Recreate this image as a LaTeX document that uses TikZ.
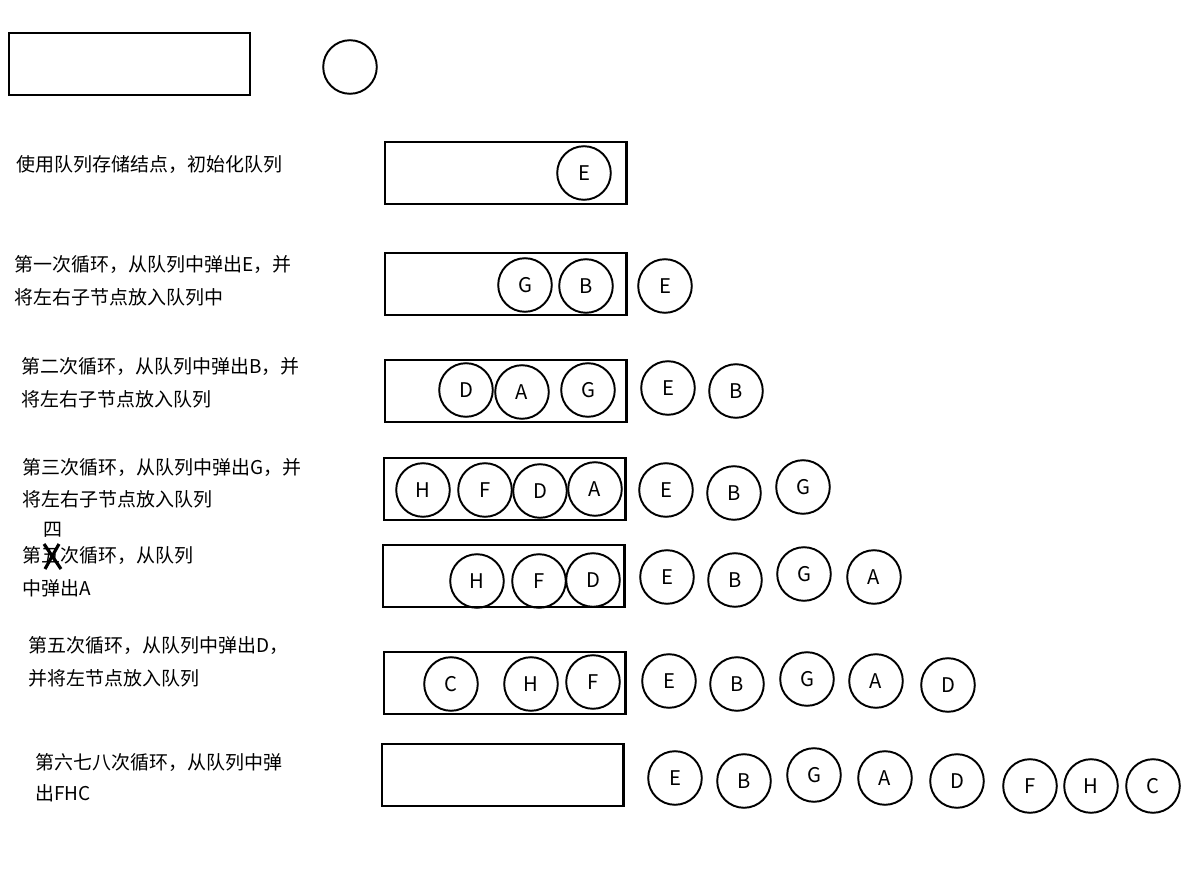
\documentclass[tikz,border=0pt]{standalone}
\usepackage{fontspec}
\setmainfont{Noto Sans CJK SC}
\tikzset{
  qnode/.style={circle,draw,line width=1.1pt,minimum size=30.5pt,inner sep=0pt,font=\fontsize{11.5}{13}\selectfont},
  qbox/.style={line width=1.7pt},
  note/.style={anchor=west,inner sep=0pt,font=\fontsize{10.8}{13}\selectfont},
}
\begin{document}
\begin{tikzpicture}[x=0.02cm,y=-0.02cm]
    \useasboundingbox (0,0) rectangle (1187,888);

    % Legend
    \draw[qbox] (9,33) rectangle (250,95);
    \node[qnode] (legend) at (350,67) {};

    % Init
    \node[note] (t1) at (16,165) {使用队列存储结点，初始化队列};
    \draw[qbox] (385,142) rectangle (626,204);
    \node[qnode] (r1E) at (584,173) {E};

    % Loop 1
    \node[note] (t2a) at (14,265) {第一次循环，从队列中弹出E，并};
    \node[note] (t2b) at (14,297) {将左右子节点放入队列中};
    \draw[qbox] (385,253) rectangle (626,315);
    \node[qnode] (r2G) at (525,285) {G};
    \node[qnode] (r2B) at (586,286) {B};
    \node[qnode] (o2E) at (665,286) {E};

    % Loop 2
    \node[note] (t3a) at (21,367) {第二次循环，从队列中弹出B，并};
    \node[note] (t3b) at (21,399) {将左右子节点放入队列};
    \draw[qbox] (385,360) rectangle (626,422);
    \node[qnode] (r3D) at (466,390) {D};
    \node[qnode] (r3A) at (522,392) {A};
    \node[qnode] (r3G) at (588,390) {G};
    \node[qnode] (o3E) at (668,388) {E};
    \node[qnode] (o3B) at (736,391) {B};

    % Loop 3
    \node[note] (t4a) at (22,467) {第三次循环，从队列中弹出G，并};
    \node[note] (t4b) at (22,499) {将左右子节点放入队列};
    \draw[qbox] (384,458) rectangle (625,520);
    \node[qnode] (r4H) at (423,490) {H};
    \node[qnode] (r4F) at (485,490) {F};
    \node[qnode] (r4D) at (540,491) {D};
    \node[qnode] (r4A) at (595,489) {A};
    \node[qnode] (o4E) at (666,490) {E};
    \node[qnode] (o4B) at (734,493) {B};
    \node[qnode] (o4G) at (803,487) {G};

    % Loop 4
    \node[note] (t5a) at (22,555) {第五次循环，从队列};
    \node[note] (t5b) at (22,588) {中弹出A};
    \node[note] (t5fix) at (43,530) {四};
    \draw[line width=1.8pt] (44,544) -- (61,569) (59,544) -- (45,569);
    \draw[qbox] (383,545) rectangle (624,607);
    \node[qnode] (r5H) at (477,581) {H};
    \node[qnode] (r5F) at (539,581) {F};
    \node[qnode] (r5D) at (593,580) {D};
    \node[qnode] (o5E) at (667,577) {E};
    \node[qnode] (o5B) at (735,580) {B};
    \node[qnode] (o5G) at (804,574) {G};
    \node[qnode] (o5A) at (874,577) {A};

    % Loop 5
    \node[note] (t6a) at (28,645) {第五次循环，从队列中弹出D，};
    \node[note] (t6b) at (28,678) {并将左节点放入队列};
    \draw[qbox] (384,652) rectangle (625,714);
    \node[qnode] (r6C) at (451,684) {C};
    \node[qnode] (r6H) at (531,684) {H};
    \node[qnode] (r6F) at (593,682) {F};
    \node[qnode] (o6E) at (669,681) {E};
    \node[qnode] (o6B) at (737,684) {B};
    \node[qnode] (o6G) at (807,679) {G};
    \node[qnode] (o6A) at (876,681) {A};
    \node[qnode] (o6D) at (948,685) {D};

    % Loops 6-8
    \node[note] (t7a) at (35,762) {第六七八次循环，从队列中弹};
    \node[note] (t7b) at (35,793) {出FHC};
    \draw[qbox] (382,744) rectangle (623,806);
    \node[qnode] (o7E) at (675,778) {E};
    \node[qnode] (o7B) at (744,781) {B};
    \node[qnode] (o7G) at (814,775) {G};
    \node[qnode] (o7A) at (885,778) {A};
    \node[qnode] (o7D) at (957,781) {D};
    \node[qnode] (o7F) at (1030,786) {F};
    \node[qnode] (o7H) at (1091,786) {H};
    \node[qnode] (o7C) at (1153,786) {C};
\end{tikzpicture}
\end{document}
